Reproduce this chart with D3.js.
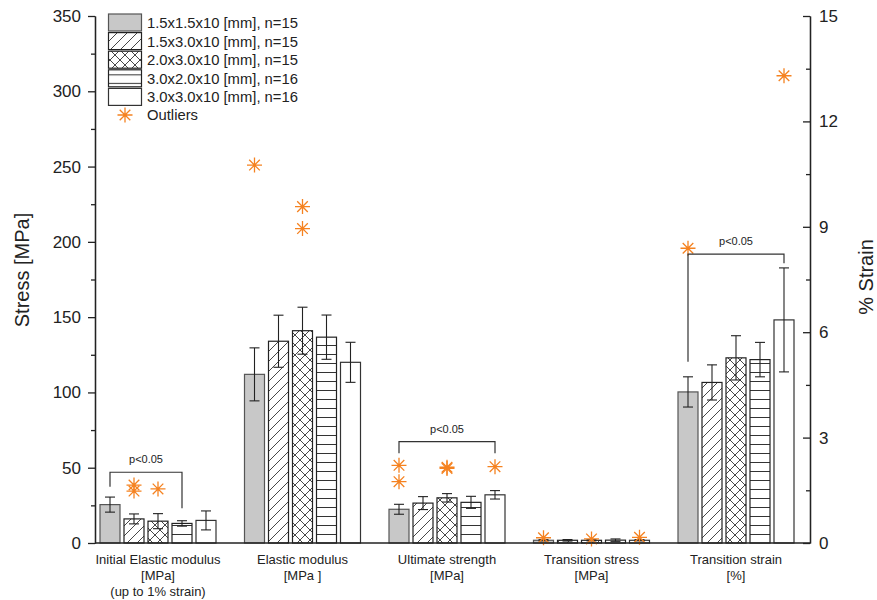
<!DOCTYPE html>
<html><head><meta charset="utf-8">
<script src="https://cdn.jsdelivr.net/npm/d3@7"></script>
<style>body{margin:0;background:#fff}svg{display:block;font-family:Arial,"Liberation Sans",sans-serif}</style>
</head><body><svg id="c" width="877" height="600"></svg>
<script>
// ---- data ----
const categories = ["Initial Elastic modulus\n[MPa]\n(up to 1% strain)", "Elastic modulus\n[MPa ]", "Ultimate strength\n[MPa]", "Transition stress\n[MPa]", "Transition strain\n[%]"];
const categoryAxis = ["stress", "stress", "stress", "stress", "strain"];
const series = ["1.5x1.5x10 [mm], n=15", "1.5x3.0x10 [mm], n=15", "2.0x3.0x10 [mm], n=15", "3.0x2.0x10 [mm], n=16", "3.0x3.0x10 [mm], n=16"];
const means = [
  [25.5, 112.0, 22.4, 1.8, 4.30],
  [16.0, 134.0, 26.5, 1.8, 4.57],
  [14.5, 141.0, 30.0, 1.8, 5.27],
  [13.0, 136.7, 27.0, 1.9, 5.22],
  [15.0, 120.0, 32.0, 1.8, 6.35]
];
const errors = [
  [5.0, 17.6, 3.3, 0.4, 0.43],
  [3.3, 17.3, 4.3, 0.5, 0.50],
  [5.0, 15.6, 2.8, 0.4, 0.63],
  [1.8, 14.7, 4.0, 0.8, 0.49],
  [6.3, 13.3, 2.8, 0.4, 1.48]
];
// [category index, series index, value]
const outliers = [
  [0,1,38.5],[0,1,34.5],[0,2,35.9],
  [1,0,251],[1,2,223.4],[1,2,208.8],
  [2,0,51.6],[2,0,40.7],[2,2,50.3],[2,2,49.5],[2,4,50.7],
  [3,0,3.5],[3,2,2.7],[3,4,3.8],
  [4,0,8.39],[4,4,13.3]
];
// [category index, from series, to series, top, left leg end, right leg end, label]
const brackets = [
  [0,0,3,47,37.4,23,"p<0.05"],
  [2,0,4,67.3,59.6,59.6,"p<0.05"],
  [4,0,4,8.22,5.16,7.96,"p<0.05"]
];
const stressTicks = [0,50,100,150,200,250,300,350];
const stressMinor = [25,75,125,175,225,275,325];
const strainTicks = [0,3,6,9,12,15];
const strainMinor = [1.5,4.5,7.5,10.5,13.5];
const legendOutlierLabel = "Outliers";
const yLeftTitle = "Stress [MPa]";
const yRightTitle = "% Strain";

// ---- layout ----
const FONT = 'Arial,"Liberation Sans",sans-serif';
const svg = d3.select("#c");
const X0 = 95, X1 = 810, Y0 = 543, Y1 = 16;
const yS = d3.scaleLinear().domain([0,350]).range([Y0,Y1]);
const yR = d3.scaleLinear().domain([0,15]).range([Y0,Y1]);
const yFor = i => categoryAxis[i] === "strain" ? yR : yS;
const xg = d3.scalePoint().domain(d3.range(categories.length)).range([158,736]);
const xs = d3.scaleBand().domain(d3.range(series.length)).range([-60,60]).paddingInner(1/6).paddingOuter(1/12);
const bw = xs.bandwidth();
const ink = "#222", orange = "#f58220";

// patterns
const defs = svg.append("defs");
const pDiag = defs.append("pattern").attr("id","diag").attr("patternUnits","userSpaceOnUse").attr("width",10).attr("height",10);
pDiag.append("rect").attr("width",10).attr("height",10).attr("fill","#fff");
pDiag.append("path").attr("d","M0,10L10,0M-2,2L2,-2M8,12L12,8").attr("stroke","#333").attr("stroke-width",0.9);
const pCross = defs.append("pattern").attr("id","cross").attr("patternUnits","userSpaceOnUse").attr("width",10).attr("height",10);
pCross.append("rect").attr("width",10).attr("height",10).attr("fill","#fff");
pCross.append("path").attr("d","M0,10L10,0M-2,2L2,-2M8,12L12,8M0,0L10,10M-2,8L2,12M8,-2L12,2").attr("stroke","#333").attr("stroke-width",0.9);
const pHor = defs.append("pattern").attr("id","hor").attr("patternUnits","userSpaceOnUse").attr("width",10).attr("height",9).attr("y",Y0 % 9);
pHor.append("rect").attr("width",10).attr("height",9).attr("fill","#fff");
pHor.append("path").attr("d","M0,0.5L10,0.5").attr("stroke","#333").attr("stroke-width",1);
const pHorL = defs.append("pattern").attr("id","horL").attr("patternUnits","userSpaceOnUse").attr("width",10).attr("height",8.5).attr("y",14 + 3*18.6 + 8.5/2 + 0.3);
pHorL.append("rect").attr("width",10).attr("height",8.5).attr("fill","#fff");
pHorL.append("path").attr("d","M0,0.5L10,0.5").attr("stroke","#333").attr("stroke-width",1);
const fills = ["#c8c8c8","url(#diag)","url(#cross)","url(#hor)","#fff"];
const strokes = ["#555","#222","#222","#222","#333"];

// bars
categories.forEach((c,ci) => {
  const y = yFor(ci);
  series.forEach((s,si) => {
    const x = xg(ci) + xs(si);
    svg.append("rect").attr("x",x).attr("y",y(means[si][ci])).attr("width",bw)
      .attr("height",Y0 - y(means[si][ci])).attr("fill",fills[si]).attr("stroke",strokes[si]).attr("stroke-width",1.2);
  });
});
// error bars
categories.forEach((c,ci) => {
  const y = yFor(ci);
  series.forEach((s,si) => {
    const cx = xg(ci) + xs(si) + bw/2;
    const m = means[si][ci], e = errors[si][ci];
    const g = svg.append("g").attr("stroke",ink).attr("stroke-width",1.1);
    g.append("line").attr("x1",cx).attr("x2",cx).attr("y1",y(m+e)).attr("y2",y(m-e));
    g.append("line").attr("x1",cx-5).attr("x2",cx+5).attr("y1",y(m+e)).attr("y2",y(m+e));
    g.append("line").attr("x1",cx-5).attr("x2",cx+5).attr("y1",y(m-e)).attr("y2",y(m-e));
  });
});

// star symbol
function star(g, cx, cy, r) {
  const d = [];
  for (let k = 0; k < 4; k++) {
    const a = k * Math.PI / 4;
    d.push(`M${cx - r*Math.cos(a)},${cy - r*Math.sin(a)}L${cx + r*Math.cos(a)},${cy + r*Math.sin(a)}`);
  }
  g.append("path").attr("d", d.join("")).attr("stroke", orange).attr("stroke-width", 1.3).attr("fill","none");
}
outliers.forEach(([ci,si,v]) => {
  star(svg, xg(ci) + xs(si) + bw/2, yFor(ci)(v), 7.5);
});

// brackets
brackets.forEach(([ci,a,b,top,le,re,label]) => {
  const y = yFor(ci);
  const xa = xg(ci) + xs(a) + bw/2, xb = xg(ci) + xs(b) + bw/2;
  svg.append("path").attr("d",`M${xa},${y(le)}V${y(top)}H${xb}V${y(re)}`)
    .attr("fill","none").attr("stroke","#333").attr("stroke-width",1.2);
  svg.append("text").attr("x",(xa+xb)/2).attr("y",y(top)-9).attr("text-anchor","middle")
    .attr("font-size",11).attr("fill",ink).text(label);
});

// axes
svg.append("g").attr("transform",`translate(${X0},0)`)
  .call(d3.axisLeft(yS).tickValues(stressTicks).tickSizeInner(7).tickSizeOuter(0).tickPadding(7));
svg.append("g").attr("transform",`translate(${X0},0)`)
  .call(d3.axisLeft(yS).tickValues(stressMinor).tickSizeInner(4).tickSizeOuter(0).tickFormat(""));
svg.append("g").attr("transform",`translate(${X1},0)`)
  .call(d3.axisRight(yR).tickValues(strainTicks).tickSizeInner(-7).tickSizeOuter(0).tickPadding(9));
svg.append("g").attr("transform",`translate(${X1},0)`)
  .call(d3.axisRight(yR).tickValues(strainMinor).tickSizeInner(-4).tickSizeOuter(0).tickFormat(""));
svg.selectAll(".tick text").attr("font-size",17).attr("fill",ink).attr("font-family",FONT);
svg.selectAll(".domain, .tick line").attr("stroke",ink).attr("stroke-width",1.3);
svg.append("line").attr("x1",X0).attr("x2",X1).attr("y1",Y0).attr("y2",Y0).attr("stroke",ink).attr("stroke-width",1.6);

// category labels
categories.forEach((c,ci) => {
  const t = svg.append("text").attr("text-anchor","middle").attr("font-size",13).attr("fill",ink).attr("font-family",FONT);
  c.split("\n").forEach((ln,k) => {
    t.append("tspan").attr("x",xg(ci)).attr("y",564 + k*16).text(ln);
  });
});

// axis titles
svg.append("text").attr("transform",`translate(29,270) rotate(-90)`).attr("text-anchor","middle")
  .attr("font-size",20).attr("fill",ink).attr("font-family",FONT).text(yLeftTitle);
svg.append("text").attr("transform",`translate(873,277) rotate(-90)`).attr("text-anchor","middle")
  .attr("font-size",20).attr("fill",ink).attr("font-family",FONT).text(yRightTitle);

// legend
const lg = svg.append("g").attr("font-family",FONT);
series.forEach((s,si) => {
  const yy = 14 + si*18.6;
  lg.append("rect").attr("x",108.5).attr("y",yy).attr("width",33).attr("height",17)
    .attr("fill",fills[si] === "url(#hor)" ? "url(#horL)" : fills[si]).attr("stroke",strokes[si]).attr("stroke-width",1.2);
  lg.append("text").attr("x",147).attr("y",yy+14).attr("font-size",14.8).attr("fill",ink).text(s);
});
star(lg, 125, 115, 7.5);
lg.append("text").attr("x",147).attr("y",120).attr("font-size",14.8).attr("fill",ink).text(legendOutlierLabel);
</script></body></html>
